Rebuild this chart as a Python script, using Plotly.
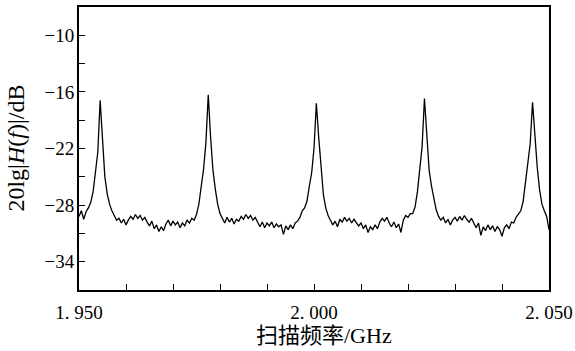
import plotly.graph_objects as go

# Sweep frequency (GHz)
freq_ghz = [
    1.9500, 1.9505, 1.9510, 1.9515, 1.9520, 1.9525, 1.9530, 1.9535, 1.9540, 1.9545,
    1.9550, 1.9555, 1.9560, 1.9565, 1.9570, 1.9575, 1.9580, 1.9585, 1.9590, 1.9595,
    1.9600, 1.9605, 1.9610, 1.9615, 1.9620, 1.9625, 1.9630, 1.9635, 1.9640, 1.9645,
    1.9650, 1.9655, 1.9660, 1.9665, 1.9670, 1.9675, 1.9680, 1.9685, 1.9690, 1.9695,
    1.9700, 1.9705, 1.9710, 1.9715, 1.9720, 1.9725, 1.9730, 1.9735, 1.9740, 1.9745,
    1.9750, 1.9755, 1.9760, 1.9765, 1.9770, 1.9775, 1.9780, 1.9785, 1.9790, 1.9795,
    1.9800, 1.9805, 1.9810, 1.9815, 1.9820, 1.9825, 1.9830, 1.9835, 1.9840, 1.9845,
    1.9850, 1.9855, 1.9860, 1.9865, 1.9870, 1.9875, 1.9880, 1.9885, 1.9890, 1.9895,
    1.9900, 1.9905, 1.9910, 1.9915, 1.9920, 1.9925, 1.9930, 1.9935, 1.9940, 1.9945,
    1.9950, 1.9955, 1.9960, 1.9965, 1.9970, 1.9975, 1.9980, 1.9985, 1.9990, 1.9995,
    2.0000, 2.0005, 2.0010, 2.0015, 2.0020, 2.0025, 2.0030, 2.0035, 2.0040, 2.0045,
    2.0050, 2.0055, 2.0060, 2.0065, 2.0070, 2.0075, 2.0080, 2.0085, 2.0090, 2.0095,
    2.0100, 2.0105, 2.0110, 2.0115, 2.0120, 2.0125, 2.0130, 2.0135, 2.0140, 2.0145,
    2.0150, 2.0155, 2.0160, 2.0165, 2.0170, 2.0175, 2.0180, 2.0185, 2.0190, 2.0195,
    2.0200, 2.0205, 2.0210, 2.0215, 2.0220, 2.0225, 2.0230, 2.0235, 2.0240, 2.0245,
    2.0250, 2.0255, 2.0260, 2.0265, 2.0270, 2.0275, 2.0280, 2.0285, 2.0290, 2.0295,
    2.0300, 2.0305, 2.0310, 2.0315, 2.0320, 2.0325, 2.0330, 2.0335, 2.0340, 2.0345,
    2.0350, 2.0355, 2.0360, 2.0365, 2.0370, 2.0375, 2.0380, 2.0385, 2.0390, 2.0395,
    2.0400, 2.0405, 2.0410, 2.0415, 2.0420, 2.0425, 2.0430, 2.0435, 2.0440, 2.0445,
    2.0450, 2.0455, 2.0460, 2.0465, 2.0470, 2.0475, 2.0480, 2.0485, 2.0490, 2.0495,
    2.0500,
]

# 20lg|H(f)| (dB)
level_db = [
    -29.2, -28.6, -29.5, -28.7, -28.3, -27.7, -26.6, -24.6, -22.4, -16.9,
    -21.4, -25.0, -26.8, -27.9, -28.6, -29.1, -29.6, -29.4, -29.9, -29.5,
    -30.1, -29.6, -29.2, -29.5, -29.0, -29.4, -29.1, -29.6, -29.3, -29.8,
    -30.2, -29.7, -30.5, -30.1, -30.8, -30.3, -30.7, -30.0, -29.6, -30.2,
    -29.7, -30.1, -29.8, -30.4, -29.9, -30.2, -29.6, -29.9, -29.4, -29.6,
    -29.0, -27.9, -26.1, -24.2, -21.4, -16.3, -20.8, -24.3, -26.3, -27.9,
    -28.9, -29.4, -29.9, -29.3, -29.8, -29.4, -30.0, -29.5, -29.7, -29.2,
    -29.5, -29.0, -29.4, -29.1, -29.6, -29.3, -29.9, -30.3, -29.8, -30.4,
    -29.9, -30.2, -29.8, -30.4, -30.0, -30.3, -30.1, -31.1, -30.2, -30.6,
    -30.1, -30.5, -29.9, -29.7, -29.3, -28.6, -28.3, -27.6, -26.0, -24.6,
    -22.0, -17.2, -20.8, -24.4, -26.9, -28.3, -29.1, -29.6, -30.1, -29.7,
    -30.3, -29.5, -29.8, -29.3, -29.7, -29.4, -29.9, -29.5, -29.8, -30.2,
    -29.9, -30.5, -30.1, -30.9, -30.3, -30.6, -30.1, -30.5, -29.8, -29.4,
    -29.7, -29.3, -29.9, -30.3, -29.8, -30.4, -30.0, -30.9, -29.6, -29.1,
    -29.3, -28.9, -28.9, -28.2, -26.6, -24.2, -21.8, -16.7, -21.0, -24.3,
    -26.0, -27.4, -28.5, -29.2, -29.6, -29.3, -29.9, -29.5, -30.1, -29.6,
    -29.3, -29.7, -29.2, -29.6, -29.1, -29.5, -29.8, -29.4, -30.0, -30.4,
    -29.9, -31.2, -30.3, -30.7, -30.1, -30.6, -30.2, -30.8, -30.3, -30.6,
    -31.3, -30.4, -30.1, -30.5, -29.8, -29.9, -29.3, -29.0, -28.6, -27.6,
    -25.6, -23.6, -21.5, -17.1, -21.2, -24.0, -26.4, -27.9, -28.6, -29.2,
    -30.6,
]

x_tick_vals = [1.95, 1.96, 1.97, 1.98, 1.99, 2.00, 2.01, 2.02, 2.03, 2.04, 2.05]
x_tick_text = ["1. 950", "", "", "", "", "2. 000", "", "", "", "", "2. 050"]
y_tick_vals = [-37, -34, -31, -28, -25, -22, -19, -16, -13, -10, -7]
y_tick_text = ["", "\u221234", "", "\u221228", "", "\u221222", "", "\u221216", "", "\u221210", ""]
x_title = "扫描频率/GHz"
y_title = "20lg|<i>H</i>(<i>f</i>)|/dB"

FONT = "Liberation Serif, Times New Roman, Noto Sans CJK SC, serif"

fig = go.Figure(
    go.Scatter(
        x=freq_ghz,
        y=level_db,
        mode="lines",
        line=dict(color="black", width=1.3),
        hoverinfo="skip",
        showlegend=False,
    )
)

fig.update_layout(
    width=575,
    height=351,
    margin=dict(l=79, r=26, t=7, b=61, autoexpand=False),
    paper_bgcolor="white",
    plot_bgcolor="white",
    font=dict(family=FONT, size=19, color="black"),
    annotations=[
        dict(text=x_title, xref="paper", yref="paper", x=0.521, y=-0.1625,
             xanchor="center", yanchor="middle", showarrow=False,
             font=dict(size=22)),
        dict(text=y_title, xref="paper", yref="paper", x=-0.136, y=0.5,
             xanchor="center", yanchor="middle", showarrow=False, textangle=-90,
             font=dict(size=24)),
    ],
)

common = dict(
    tickmode="array",
    ticks="inside",
    ticklen=6,
    tickwidth=1.3,
    tickcolor="black",
    showline=True,
    linecolor="black",
    linewidth=2,
    mirror=True,
    showgrid=False,
    zeroline=False,
    tickfont=dict(size=19),
)

fig.update_xaxes(range=[1.95, 2.05], tickvals=x_tick_vals, ticktext=x_tick_text,
                 ticklabelstandoff=4, **common)
fig.update_yaxes(range=[-37, -7], tickvals=y_tick_vals, ticktext=y_tick_text,
                 ticklabelstandoff=-1, **common)

fig.write_html("out.html")
